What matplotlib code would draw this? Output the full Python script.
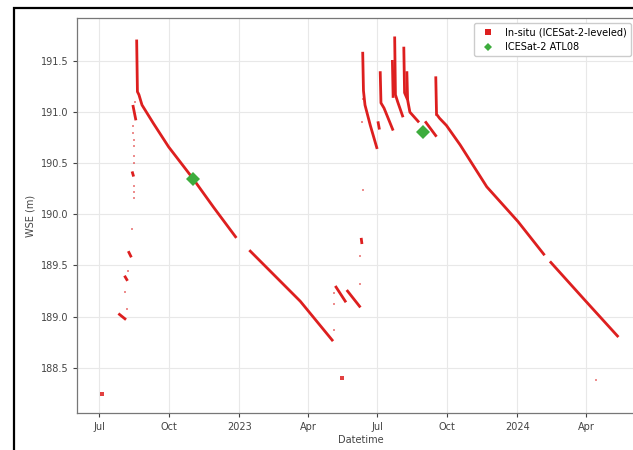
import matplotlib
matplotlib.use("Agg")
import matplotlib.pyplot as plt
import matplotlib.dates as mdates
from matplotlib.patches import Rectangle
import pandas as pd

# in-situ water surface elevation, continuous runs
run_dates = [
    ["2022-07-26", "2022-07-31", "2022-08-05"],
    ["2022-08-03", "2022-08-07"],
    ["2022-08-08", "2022-08-12"],
    ["2022-08-13", "2022-08-15"],
    ["2022-08-14", "2022-08-18"],
    ["2022-08-19", "2022-08-20", "2022-08-22", "2022-08-26", "2022-09-10",
     "2022-09-30", "2022-11-01", "2022-11-28", "2022-12-28"],
    ["2023-01-14", "2023-03-22", "2023-05-04"],
    ["2023-05-07", "2023-05-21"],
    ["2023-05-22", "2023-06-09"],
    ["2023-06-10", "2023-06-11"],
    ["2023-06-12", "2023-06-13", "2023-06-15", "2023-06-22", "2023-07-01"],
    ["2023-07-02", "2023-07-04"],
    ["2023-07-05", "2023-07-06", "2023-07-10", "2023-07-22"],
    ["2023-07-21", "2023-07-22"],
    ["2023-07-24", "2023-07-25", "2023-07-28", "2023-08-04"],
    ["2023-08-05", "2023-08-06", "2023-08-10", "2023-08-13", "2023-08-25"],
    ["2023-08-09", "2023-08-10"],
    ["2023-09-02", "2023-09-17"],
    ["2023-09-16", "2023-09-17", "2023-09-21", "2023-09-30", "2023-10-18",
     "2023-11-22", "2024-01-02", "2024-02-06"],
    ["2024-02-13", "2024-03-30", "2024-05-13"],
]
run_wse = [
    [189.03, 189.00, 188.97],
    [189.40, 189.35],
    [189.64, 189.58],
    [190.42, 190.37],
    [191.07, 190.92],
    [191.71, 191.20, 191.17, 191.07, 190.89, 190.66, 190.35, 190.07, 189.77],
    [189.65, 189.15, 188.76],
    [189.30, 189.14],
    [189.26, 189.09],
    [189.77, 189.71],
    [191.59, 191.21, 191.07, 190.87, 190.64],
    [190.91, 190.83],
    [191.40, 191.09, 191.04, 190.82],
    [191.51, 191.14],
    [191.74, 191.17, 191.10, 190.95],
    [191.64, 191.19, 191.12, 191.00, 190.90],
    [191.40, 191.12],
    [190.91, 190.76],
    [191.35, 190.98, 190.94, 190.87, 190.68, 190.27, 189.93, 189.60],
    [189.54, 189.16, 188.80],
]

# single in-situ readings
pt_dates = ["2022-07-05", "2023-05-16"]
pt_wse = [188.24, 188.40]

# sparse / faint in-situ readings
faint_dates = ["2022-08-14", "2022-08-14", "2022-08-15", "2022-08-15", "2022-08-15",
               "2022-08-15", "2022-08-16", "2022-08-16", "2022-08-16", "2022-08-13",
               "2022-08-07", "2022-08-04", "2022-08-06", "2022-08-17",
               "2023-05-05", "2023-05-05", "2023-05-05", "2023-06-09", "2023-06-09",
               "2023-06-12", "2023-06-11", "2023-06-12", "2023-09-16", "2023-09-16",
               "2024-04-14"]
faint_wse = [190.86, 190.80, 190.73, 190.67, 190.57,
             190.50, 190.28, 190.22, 190.16, 189.86,
             189.45, 189.24, 189.07, 191.10,
             188.87, 189.23, 189.12, 189.32, 189.59,
             190.24, 190.90, 191.13, 191.07, 190.97,
             188.38]

# ICESat-2 ATL08 crossings
atl_dates = ["2022-11-01", "2023-08-30"]
atl_wse = [190.35, 190.81]

red = "#dd1f1f"

fig = plt.figure(figsize=(6.33, 4.5), dpi=100)
ax = fig.add_axes([77.3 / 633, 1 - 412.7 / 450, (644.3 - 77.3) / 633, (412.7 - 18.3) / 450])

for d, w in zip(run_dates, run_wse):
    ax.plot(pd.to_datetime(d), w, color=red, lw=2.0, solid_capstyle="butt", zorder=3)
ax.plot(pd.to_datetime(faint_dates), faint_wse, ls="none", marker="s", ms=1.7,
        color=red, alpha=0.5, mew=0, zorder=2)
ax.plot(pd.to_datetime(pt_dates), pt_wse, ls="none", marker="s", ms=2.6,
        color=red, alpha=0.85, mew=0, zorder=3, label="In-situ (ICESat-2-leveled)")
ax.plot(pd.to_datetime(atl_dates), atl_wse, ls="none", marker="D", ms=7.5,
        color="#3dac3d", mew=0, zorder=4, label="ICESat-2 ATL08")

ax.set_xlim(pd.Timestamp("2022-06-02"), pd.Timestamp("2024-06-16"))
ax.set_ylim(188.06, 191.918)
ax.set_yticks([188.5, 189.0, 189.5, 190.0, 190.5, 191.0, 191.5])

loc = mdates.MonthLocator(bymonth=[1, 4, 7, 10])
fmt = mdates.ConciseDateFormatter(loc)
fmt.offset_formats = [""] * 6
ax.xaxis.set_major_locator(loc)
ax.xaxis.set_major_formatter(fmt)

ax.grid(True, color="#e8e8e8", lw=0.8)
ax.set_axisbelow(True)
for s in ax.spines.values():
    s.set_color("#777777")
    s.set_linewidth(0.9)
ax.tick_params(labelsize=7, colors="#444444", length=3)
ax.set_xlabel("Datetime", fontsize=7, color="#444444", labelpad=2)
ax.set_ylabel("WSE (m)", fontsize=7, color="#444444")

leg = ax.legend(loc="upper right", bbox_to_anchor=(0.985, 1.0), fontsize=7,
                frameon=True, fancybox=True, edgecolor="#cccccc", framealpha=1)
leg.legend_handles[0].set_markersize(5)
leg.legend_handles[0].set_alpha(1)
leg.legend_handles[1].set_markersize(4.5)

# outer frame of the original screenshot
fig.patches.append(Rectangle((14 / 633, -0.1), 1.1, (450 - 8) / 450 + 0.1,
                             transform=fig.transFigure, fill=False,
                             edgecolor="black", lw=1.6))

fig.savefig("out.png", dpi=100)
